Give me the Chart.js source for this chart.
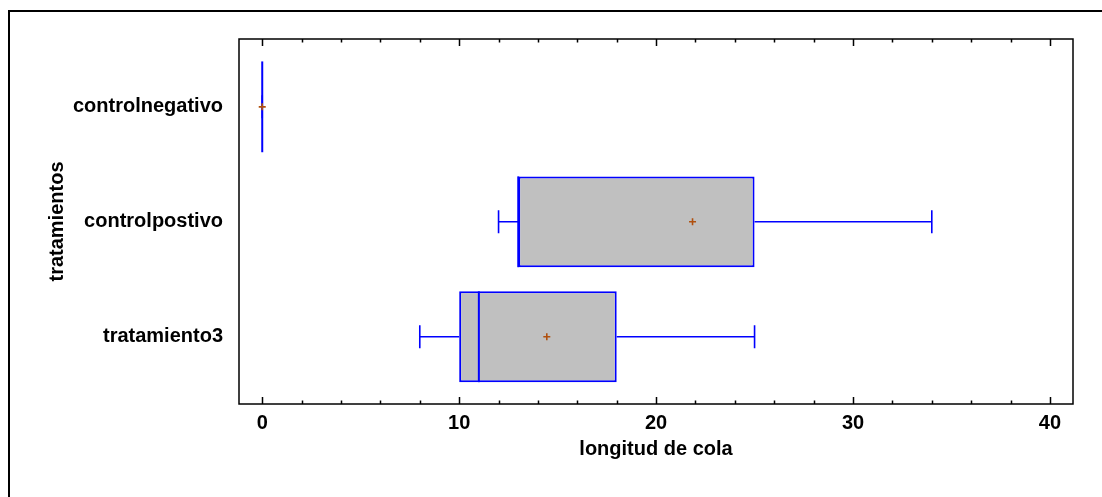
<!DOCTYPE html>
<html lang="es">

<head>
    <meta charset="UTF-8">
    <title>Gráfico Caja y Bigotes</title>
    <script src="https://cdn.jsdelivr.net/npm/chart.js@4.4.1/dist/chart.umd.min.js"></script>
    <style>
        body { margin: 0; background: #fff; overflow: hidden; }
        #caja { position: relative; width: 1102px; height: 497px; }
    </style>
</head>

<body>
    <div id="caja"><canvas id="myChart"></canvas></div>
    <script>
        // datos
        var tratamientos = ['controlnegativo', 'controlpostivo', 'tratamiento3'];
        var minimos = [0, 12, 8];
        var cuartil1 = [0, 13, 10];
        var medianas = [0, 13, 11];
        var cuartil3 = [0, 25, 18];
        var maximos = [0, 34, 25];
        var medias = [0, 21.85, 14.45];
        var marcasX = [0, 10, 20, 30, 40];

        var azul = '#0000ff';
        var fuente = { family: '"Liberation Sans", Arial, sans-serif', size: 20, weight: 'bold' };
        Chart.defaults.color = '#000';

        var cajas = tratamientos.map(function (t, i) {
            return { x: [cuartil1[i], cuartil3[i]], y: i + 1 };
        });

        // bigotes, medianas, medias, marco y marcas
        var dibujo = {
            id: 'dibujo',
            afterDatasetsDraw: function (chart) {
                var c = chart.ctx, sx = chart.scales.x, sy = chart.scales.y;
                var media = Math.abs(sy.getPixelForValue(1.395) - sy.getPixelForValue(1));
                var tope = Math.abs(sy.getPixelForValue(1.1) - sy.getPixelForValue(1));
                c.save();
                c.strokeStyle = azul;
                for (let i = 0; i < tratamientos.length; i++) {
                    var y = sy.getPixelForValue(i + 1);
                    var xmin = sx.getPixelForValue(minimos[i]);
                    var xq1 = sx.getPixelForValue(cuartil1[i]);
                    var xq3 = sx.getPixelForValue(cuartil3[i]);
                    var xmax = sx.getPixelForValue(maximos[i]);
                    var xmed = sx.getPixelForValue(medianas[i]);
                    c.lineWidth = 1.6;
                    c.beginPath();
                    c.moveTo(xmin, y); c.lineTo(xq1, y);
                    c.moveTo(xq3, y); c.lineTo(xmax, y);
                    c.moveTo(xmin, y - tope); c.lineTo(xmin, y + tope);
                    c.moveTo(xmax, y - tope); c.lineTo(xmax, y + tope);
                    c.stroke();
                    c.lineWidth = 2;
                    c.beginPath();
                    c.moveTo(xmed, y - media); c.lineTo(xmed, y + media);
                    c.stroke();
                    var xm = sx.getPixelForValue(medias[i]);
                    c.strokeStyle = '#b0500f';
                    c.lineWidth = 1.6;
                    c.beginPath();
                    c.moveTo(xm - 3.5, y); c.lineTo(xm + 3.5, y);
                    c.moveTo(xm, y - 3.5); c.lineTo(xm, y + 3.5);
                    c.stroke();
                    c.strokeStyle = azul;
                }
                c.restore();
            },
            afterDraw: function (chart) {
                var c = chart.ctx, a = chart.chartArea, sx = chart.scales.x;
                c.save();
                c.strokeStyle = '#000';
                c.lineWidth = 1.5;
                c.strokeRect(a.left, a.top, a.right - a.left, a.bottom - a.top);
                c.beginPath();
                for (let v = 0; v <= 40; v += 2) {
                    var x = Math.round(sx.getPixelForValue(v)) + 0.5;
                    var largo = v % 10 == 0 ? 7 : 3.5;
                    c.moveTo(x, a.bottom); c.lineTo(x, a.bottom - largo);
                    c.moveTo(x, a.top); c.lineTo(x, a.top + largo);
                }
                c.stroke();
                // borde exterior
                c.lineWidth = 2;
                c.beginPath();
                c.moveTo(9, 497); c.lineTo(9, 11); c.lineTo(1102, 11);
                c.stroke();
                c.restore();
            }
        };

        var ctx = document.getElementById('myChart');
        var myChart = new Chart(ctx, {
            type: 'bar',
            data: {
                datasets: [{
                    label: 'longitud de cola',
                    data: cajas,
                    backgroundColor: '#c0c0c0',
                    borderColor: azul,
                    borderWidth: 2,
                    borderSkipped: false,
                    categoryPercentage: 1,
                    barPercentage: 0.79
                }]
            },
            options: {
                indexAxis: 'y',
                responsive: true,
                maintainAspectRatio: false,
                animation: false,
                layout: { padding: { top: 39, right: 29, left: 0, bottom: 0 } },
                plugins: { legend: { display: false }, tooltip: { enabled: false } },
                scales: {
                    x: {
                        type: 'linear',
                        min: -1.18,
                        max: 41.17,
                        offset: false,
                        grid: { display: false, drawTicks: false },
                        border: { display: false },
                        afterFit: function (s) { s.height = 93; },
                        afterBuildTicks: function (s) {
                            s.ticks = marcasX.map(function (v) { return { value: v }; });
                        },
                        ticks: { font: fuente, padding: 7, maxRotation: 0 },
                        title: { display: true, text: 'longitud de cola', font: fuente, padding: { bottom: 36 } }
                    },
                    y: {
                        type: 'linear',
                        reverse: true,
                        offset: false,
                        min: 0.41,
                        max: 3.585,
                        grid: { display: false, drawTicks: false, offset: false },
                        border: { display: false },
                        afterFit: function (s) { s.width = 239; },
                        afterBuildTicks: function (s) {
                            s.ticks = tratamientos.map(function (t, i) { return { value: i + 1 }; });
                        },
                        ticks: {
                            font: fuente,
                            padding: 16,
                            callback: function (v) { return tratamientos[v - 1]; }
                        },
                        title: { display: true, text: 'tratamientos', font: fuente, padding: { top: 45 } }
                    }
                }
            },
            plugins: [dibujo]
        });
    </script>
</body>

</html>
